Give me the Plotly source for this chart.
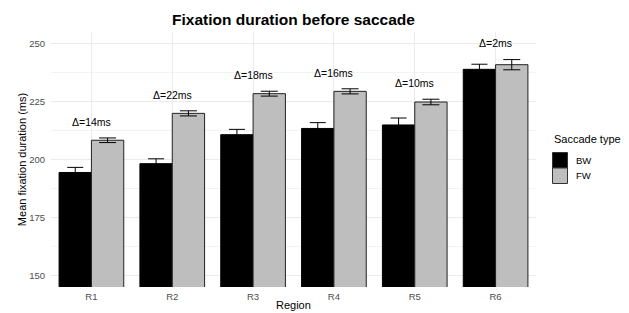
import plotly.graph_objects as go

regions = ["R1", "R2", "R3", "R4", "R5", "R6"]
bw_mean = [194.4, 198.2, 210.7, 213.4, 214.9, 238.9]
bw_se = [2.2, 2.1, 2.3, 2.5, 3.0, 2.2]
fw_mean = [208.3, 219.9, 228.4, 229.4, 224.8, 240.9]
fw_se = [1.0, 1.1, 1.05, 1.1, 1.2, 2.2]
delta_ms = [14, 22, 18, 16, 10, 2]
series_names = ["BW", "FW"]
series_fills = ["#000000", "#BEBEBE"]

FONT = "Liberation Sans, Arial, Helvetica, sans-serif"

fig = go.Figure()
fig.add_trace(go.Bar(
    name=series_names[0], x=regions, y=bw_mean, showlegend=False,
    marker=dict(color=series_fills[0], line=dict(color="#000000", width=1)),
    error_y=dict(type="data", array=bw_se, color="#000000", thickness=1, width=8),
))
fig.add_trace(go.Bar(
    name=series_names[1], x=regions, y=fw_mean, showlegend=False,
    marker=dict(color=series_fills[1], line=dict(color="#222222", width=1)),
    error_y=dict(type="data", array=fw_se, color="#000000", thickness=1, width=8.5),
))

for r, bm, bs, fm, fs, d in zip(regions, bw_mean, bw_se, fw_mean, fw_se, delta_ms):
    fig.add_annotation(
        x=r, y=max(bm + bs, fm + fs) + 3.5, text=f"Δ={d}ms",
        showarrow=False, yanchor="bottom", xanchor="center",
        font=dict(family=FONT, size=10.5, color="#000000"),
    )

# positions in paper coordinates
W, H = 629, 313
ML, MR, MT, MB = 51, 93, 32, 26
PW, PH = W - ML - MR, H - MT - MB
def px(xp):
    return (xp - ML) / PW
def py(yp):
    return (H - MB - yp) / PH

# x-axis title
fig.add_annotation(xref="paper", yref="paper", x=0.5, y=py(304.5),
                   text="Region", showarrow=False, xanchor="center", yanchor="middle",
                   font=dict(family=FONT, size=11, color="#000000"))

# legend (ggplot-style contiguous keys)
LX = 552
fig.add_annotation(xref="paper", yref="paper", x=px(LX), y=py(139),
                   text="Saccade type", showarrow=False, xanchor="left", yanchor="middle",
                   font=dict(family=FONT, size=11, color="#000000"))
key_top = 152.5
key_h = 15.5
for i, (nm, fc) in enumerate(zip(series_names, series_fills)):
    y0 = key_top + i * key_h
    fig.add_shape(type="rect", xref="paper", yref="paper",
                  x0=px(LX + 0.5), x1=px(LX + 15.5), y0=py(y0 + key_h), y1=py(y0),
                  fillcolor=fc, line=dict(color="#333333", width=1))
    fig.add_annotation(xref="paper", yref="paper", x=px(LX + 22), y=py(y0 + key_h / 2),
                       text=nm, showarrow=False, xanchor="left", yanchor="middle",
                       font=dict(family=FONT, size=9.5, color="#000000"))

fig.update_layout(
    width=W, height=H,
    margin=dict(l=ML, r=MR, t=MT, b=MB),
    paper_bgcolor="white", plot_bgcolor="white",
    barmode="group", bargap=0.2, bargroupgap=0,
    font=dict(family=FONT, size=11, color="#000000"),
    title=dict(text="Fixation duration before saccade", xref="paper", x=0.5, xanchor="center",
               y=0.938, yanchor="middle",
               font=dict(family=FONT, size=15.5, color="#000000", weight="bold")),
    showlegend=False,
)
fig.update_xaxes(
    showgrid=True, gridcolor="#EBEBEB", gridwidth=1, automargin=False,
    showline=False, zeroline=False,
    ticks="outside", ticklen=1, tickcolor="rgba(0,0,0,0)",
    tickfont=dict(family=FONT, size=9.5, color="#4D4D4D"),
)
fig.update_yaxes(
    range=[145, 255], tickvals=[150, 175, 200, 225, 250], automargin=False,
    showgrid=True, gridcolor="#EBEBEB", gridwidth=1,
    minor=dict(tickvals=[162.5, 187.5, 212.5, 237.5], showgrid=True,
               gridcolor="#F3F3F3", gridwidth=0.6),
    showline=False, zeroline=False,
    ticks="outside", ticklen=3, tickcolor="rgba(0,0,0,0)",
    tickfont=dict(family=FONT, size=9.5, color="#4D4D4D"),
    title=dict(text="Mean fixation duration (ms)", standoff=0,
               font=dict(family=FONT, size=11, color="#000000")),
)

fig.write_html("out.html",
               config={"displayModeBar": False},
               post_script="document.body.style.margin='0';document.body.style.padding='0';")
